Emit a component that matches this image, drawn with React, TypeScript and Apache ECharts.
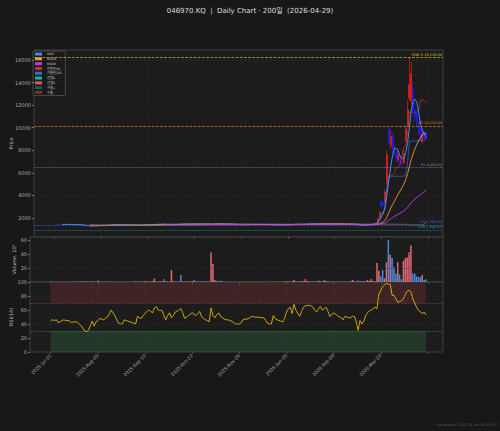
import React, { useEffect, useRef } from "react";
import * as echarts from "echarts";

// ---------- data ----------
const OFFSET = 11; // empty categories before first bar (axis margin)
const N_CAT = 220;
const TICK_EVERY = 25;
const TICK_LABELS = ["2025-Jul-01", "2025-Aug-05", "2025-Sep-10", "2025-Oct-22", "2025-Nov-26", "2026-Jan-05", "2026-Feb-09", "2026-Mar-20"];
const PRICE_TICKS = [2000, 4000, 6000, 8000, 10000, 12000, 14000, 16000];
const VOLUME_TICKS = [20, 40, 60];
const RSI_TICKS = [0, 20, 40, 60, 80, 100];

// [open, close, low, high]
const CANDLES: number[][] = [
  [1460,1450,1430,1480],[1450,1440,1425,1465],[1440,1445,1430,1460],[1445,1430,1420,1455],[1430,1420,1405,1440],
  [1420,1425,1410,1440],[1425,1435,1415,1450],[1435,1430,1420,1445],[1430,1425,1410,1440],[1425,1415,1405,1435],
  [1415,1410,1395,1425],[1410,1400,1390,1420],[1400,1405,1390,1415],[1405,1395,1380,1410],[1395,1380,1370,1400],
  [1380,1360,1350,1390],[1360,1330,1320,1370],[1330,1300,1285,1340],[1300,1270,1255,1310],[1270,1280,1260,1295],
  [1280,1290,1270,1300],[1290,1330,1285,1345],[1330,1310,1300,1340],[1310,1325,1300,1335],[1325,1340,1315,1350],
  [1370,1360,1340,1385],[1360,1355,1340,1370],[1355,1370,1345,1380],[1370,1365,1355,1380],[1365,1380,1360,1390],
  [1380,1400,1375,1410],[1400,1420,1395,1430],[1420,1450,1415,1470],[1450,1430,1420,1455],[1430,1415,1405,1440],
  [1415,1390,1380,1420],[1390,1370,1360,1395],[1370,1360,1350,1380],[1360,1355,1345,1370],[1355,1375,1350,1385],
  [1375,1370,1360,1385],[1370,1360,1350,1380],[1360,1355,1345,1370],[1355,1345,1335,1365],[1345,1340,1330,1355],
  [1340,1335,1325,1350],[1335,1365,1330,1380],[1365,1360,1350,1375],[1360,1370,1355,1380],[1370,1385,1365,1395],
  [1385,1395,1380,1405],[1395,1410,1390,1420],[1410,1425,1405,1435],[1425,1415,1405,1430],[1415,1440,1410,1450],
  [1440,1470,1435,1490],[1470,1450,1440,1475],[1450,1445,1435,1460],[1445,1455,1440,1465],[1455,1460,1445,1470],
  [1460,1420,1410,1465],[1420,1440,1415,1450],[1440,1450,1435,1460],[1450,1445,1435,1460],[1420,1430,1410,1450],
  [1430,1445,1425,1455],[1445,1455,1440,1465],[1455,1460,1445,1470],[1460,1465,1450,1475],[1485,1475,1460,1495],
  [1475,1480,1465,1490],[1480,1440,1430,1485],[1440,1450,1435,1460],[1450,1455,1440,1465],[1455,1465,1445,1475],
  [1465,1470,1455,1480],[1470,1455,1445,1480],[1455,1465,1450,1475],[1465,1475,1455,1485],[1475,1470,1460,1485],
  [1470,1455,1445,1480],[1455,1445,1435,1465],[1445,1440,1430,1455],[1440,1430,1420,1450],[1430,1425,1415,1440],
  [1425,1490,1420,1520],[1450,1460,1440,1480],[1460,1470,1450,1480],[1470,1475,1460,1485],[1475,1465,1455,1485],
  [1465,1460,1450,1475],[1460,1450,1440,1470],[1450,1440,1430,1460],[1440,1435,1425,1450],[1435,1430,1420,1445],
  [1430,1425,1415,1440],[1425,1415,1405,1435],[1415,1410,1400,1425],[1410,1400,1390,1420],[1400,1395,1385,1410],
  [1395,1390,1380,1405],[1390,1400,1385,1410],[1400,1410,1395,1420],[1410,1415,1400,1425],[1415,1418,1405,1428],
  [1418,1420,1410,1430],[1420,1425,1410,1435],[1425,1430,1415,1440],[1430,1428,1418,1438],[1428,1430,1420,1440],
  [1430,1428,1418,1438],[1428,1426,1416,1436],[1426,1424,1414,1434],[1424,1425,1414,1435],[1425,1410,1400,1430],
  [1410,1395,1385,1415],[1395,1390,1380,1400],[1390,1385,1375,1395],[1385,1405,1380,1415],[1405,1400,1390,1410],
  [1400,1395,1385,1410],[1395,1390,1380,1405],[1390,1385,1375,1400],[1385,1380,1370,1395],[1380,1400,1375,1410],
  [1400,1420,1395,1430],[1420,1440,1415,1450],[1440,1430,1420,1450],[1430,1445,1425,1455],[1445,1470,1440,1490],
  [1470,1455,1445,1475],[1455,1445,1435,1465],[1445,1440,1430,1455],[1440,1460,1435,1470],[1460,1470,1450,1480],
  [1470,1475,1460,1495],[1475,1480,1465,1490],[1480,1490,1470,1500],[1490,1485,1475,1500],[1485,1480,1470,1495],
  [1480,1470,1460,1490],[1470,1465,1455,1480],[1465,1480,1460,1490],[1480,1475,1465,1490],[1475,1470,1460,1485],
  [1470,1480,1465,1495],[1480,1485,1470,1495],[1485,1470,1460,1490],[1470,1455,1445,1475],[1455,1460,1450,1470],
  [1460,1465,1450,1475],[1465,1460,1450,1470],[1460,1455,1445,1465],[1455,1450,1440,1460],[1450,1440,1430,1455],
  [1440,1430,1420,1450],[1430,1440,1425,1450],[1440,1435,1425,1445],[1435,1430,1420,1445],[1430,1432,1420,1442],
  [1432,1435,1420,1450],[1435,1425,1415,1445],[1425,1400,1390,1430],[1400,1330,1300,1405],[1330,1370,1320,1380],
  [1370,1350,1340,1380],[1350,1365,1345,1375],[1365,1390,1360,1400],[1390,1420,1385,1430],[1420,1450,1410,1460],
  [1450,1470,1440,1490],[1470,1500,1460,1520],[1500,1560,1490,1580],[1580,1950,1560,2050],[1980,2450,1950,2600],
  [3450,3000,2900,3600],[3300,3100,2950,3500],[3400,4300,3300,4500],[5200,7600,5000,8000],[10000,8600,8300,10100],
  [8400,9200,8100,9800],[9300,8000,7800,9600],[8200,7700,7400,8500],[7800,7300,7000,8100],[7200,7600,6900,8200],
  [7500,6900,6700,7700],[6900,6800,6500,7200],[6900,7700,6800,8100],[8900,9900,8700,10200],[10200,11600,10000,12400],
  [12600,13800,12300,16250],[12400,14800,12000,15800],[13400,11500,11000,14000],[11600,10900,10500,12600],[11400,10300,10000,11600],
  [10200,9400,9200,10400],[9900,8900,8700,10100],[8800,9400,8600,9600],[9500,9100,8900,9700],[9700,9000,8850,9800],
];

// volume, millions of shares
const VOLUME: number[] = [
  0.6,0.4,0.5,0.3,0.4,0.5,0.3,0.4,0.3,0.5,
  0.4,0.3,0.4,0.5,0.6,0.7,0.8,0.9,0.7,0.6,
  0.5,0.8,0.6,0.5,0.4,2.0,0.6,0.4,0.3,0.4,
  0.5,0.6,0.4,0.3,0.3,0.4,0.3,0.3,0.4,0.3,
  0.3,0.4,0.3,0.4,0.5,1.2,0.5,0.4,0.6,0.8,
  1.0,0.7,0.6,0.9,1.5,5.0,0.8,1.0,0.9,1.2,
  4.0,1.0,0.8,0.7,17.0,1.2,0.8,0.7,0.6,10.0,
  1.0,0.7,0.6,0.5,0.8,1.0,3.0,1.0,0.8,0.7,
  1.5,1.0,0.8,0.7,0.6,42.0,26.0,3.0,1.5,1.0,
  2.0,0.8,0.6,0.5,0.5,0.4,0.5,0.4,0.3,0.4,
  0.3,0.4,0.3,0.4,0.5,0.4,0.3,0.4,0.3,0.3,
  0.4,0.3,0.3,0.4,0.3,0.4,0.3,0.3,0.4,0.5,
  0.4,0.6,0.5,0.6,0.8,0.9,1.0,0.8,1.2,3.0,
  1.0,0.8,1.5,1.0,1.2,4.0,1.5,1.0,0.8,1.0,
  0.7,1.2,2.0,1.0,0.8,2.5,1.5,0.9,0.7,0.6,
  0.6,0.5,0.5,0.6,0.5,0.6,0.7,0.5,0.8,1.0,
  3.0,1.5,0.8,2.0,1.0,1.0,1.2,1.0,3.0,1.5,
  4.0,1.5,1.0,27.0,16.0,8.0,17.0,5.0,28.0,60.0,
  39,34,21,12,28,11,4,30,34,35,
  42,52,12,12,8,7,7,10,3,4,
];

const RSI: number[] = [
  45,46,45,46,42,43,45,46,45,45,
  44,42,43,43,43,40,38,34,30,29,
  31,38,44,37,43,45,48,47,46,48,
  50,54,60,56,52,46,41,40,40,46,
  45,44,43,42,41,40,51,49,48,52,
  55,58,60,58,56,63,65,60,59,60,
  52,46,52,56,49,52,57,58,60,62,
  56,48,50,52,54,56,54,52,55,58,
  50,48,46,45,43,63,52,49,53,56,
  51,49,47,46,46,45,44,42,40,40,
  40,42,46,47,47,48,50,51,50,50,
  50,49,49,49,45,41,40,40,52,48,
  46,45,44,43,48,57,62,64,55,68,
  60,55,51,58,64,66,66,67,66,64,
  60,57,62,65,60,62,64,58,51,53,
  56,54,52,50,49,46,51,50,49,49,
  51,51,43,31,45,40,44,52,56,59,
  60,62,64,62,83,88,93,96,98,97,
  97,81,81,76,71,72,73,76,82,87,
  88,86,76,70,64,60,57,55,57,53,
];

const LEVEL_VALUES = [16230, 10150, 6490, 1380, 940];
const LEVEL_LABELS = ["52W H 16,230.00", "R1 10,150.00", "Pv 6,490.00", "S1 1,380.00", "52W L 940.00"];
const LEGEND_NAMES = ["MA5", "MA20", "MA60", "전환선(9)", "기준선(26)", "선행A", "선행B", "구름+", "구름-"];

// ---------- helpers ----------
const sma = (vals: number[], n: number) =>
  vals.map((_, i) => {
    if (i < n - 1) return null;
    let s = 0;
    for (let j = i - n + 1; j <= i; j++) s += vals[j];
    return s / n;
  });
const midRange = (n: number) =>
  CANDLES.map((_, i) => {
    if (i < n - 1) return null;
    let hi = -Infinity, lo = Infinity;
    for (let j = i - n + 1; j <= i; j++) {
      hi = Math.max(hi, CANDLES[j][3]);
      lo = Math.min(lo, CANDLES[j][2]);
    }
    return (hi + lo) / 2;
  });
// pad a per-bar array onto the full category axis
const pad = (arr: any[], empty: any = null) => {
  const out: any[] = Array.from({ length: N_CAT }, () => empty);
  arr.forEach((v, i) => { out[i + OFFSET] = v === null ? empty : v; });
  return out;
};

export default function App() {
  const ref = useRef<HTMLDivElement>(null);
  useEffect(() => {
    document.body.style.margin = "0";
    document.body.style.background = "#181818";
    const chart = echarts.init(ref.current!, null, { renderer: "svg" });

    const closes = CANDLES.map((c) => c[1]);
    const ma5 = sma(closes, 5);
    const ma20 = sma(closes, 20);
    const ma60 = sma(closes, 60);
    const conv = midRange(9);
    const base = midRange(26);
    const b52 = midRange(52);
    const spanA: (number | null)[] = CANDLES.map(() => null);
    const spanB: (number | null)[] = CANDLES.map(() => null);
    for (let i = 0; i + 26 < CANDLES.length; i++) {
      if (conv[i] !== null && base[i] !== null) spanA[i + 26] = ((conv[i] as number) + (base[i] as number)) / 2;
      if (b52[i] !== null) spanB[i + 26] = b52[i];
    }

    const cats = Array.from({ length: N_CAT }, (_, k) => String(k));
    const isTick = (k: number) => k >= OFFSET && (k - OFFSET) % TICK_EVERY === 0 && k - OFFSET <= 200;
    const font = "'DejaVu Sans', 'Noto Sans CJK KR', sans-serif";
    const BG = "#1c1c1c";
    const BORDER = "#4a4a4a";

    const grids = [
      { left: 30, top: 50, width: 413, height: 187 },
      { left: 30, top: 237, width: 413, height: 45 },
      { left: 30, top: 282, width: 413, height: 70 },
    ].map((g) => ({ ...g, show: true, backgroundColor: BG, borderColor: BORDER, borderWidth: 0.8 }));

    const xAxes = [0, 1, 2].map((g) => ({
      type: "category",
      gridIndex: g,
      data: cats,
      boundaryGap: false,
      axisLine: { show: false },
      axisTick: { show: true, interval: (i: number) => isTick(i), length: 2, lineStyle: { color: "#777", width: 0.6 } },
      axisLabel: {
        show: g === 2,
        interval: (i: number) => isTick(i),
        formatter: (_v: string, i: number) => TICK_LABELS[(i - OFFSET) / TICK_EVERY] || "",
        rotate: 45,
        fontSize: 4.6,
        color: "#aaa",
        margin: 3,
        fontFamily: font,
      },
      splitLine: { show: true, interval: (i: number) => isTick(i), lineStyle: { color: "#2e2e2e", type: "dotted", width: 0.6 } },
    }));

    // y labels are drawn as rich-free plain strings; ticks are pinned with customValues
    const yAxis = (g: number, min: number, max: number, ticks: number[], name: string, nameGap: number) => ({
      type: "value", gridIndex: g, min, max,
      axisLine: { show: false },
      axisTick: { show: true, length: 2, customValues: ticks, lineStyle: { color: "#777" } },
      axisLabel: {
        customValues: ticks, fontSize: 5, color: "#aaa", margin: 3, fontFamily: font,
        formatter: (v: number) => String(Math.round(v)),
        width: 24, overflow: "none", align: "right",
      },
      splitLine: { show: true, lineStyle: { color: "#2e2e2e", type: "dotted", width: 0.6 } },
      name, nameGap, nameLocation: "middle", nameRotate: 90, nameMoveOverlap: false,
      nameTextStyle: { fontSize: 5, color: "#bbb", fontFamily: font },
      z: 20,
    });
    const yAxes = [
      yAxis(0, 317, 16886, PRICE_TICKS, "Price", 21),
      yAxis(1, 0, 64, VOLUME_TICKS, "Volume, 10⁶", 14),
      yAxis(2, 0, 100, RSI_TICKS, "RSI(14)", 17),
    ];

    const levelColors = ["#d6c21c", "#d9821a", "#6f8fae", "#4a6fc0", "#1c98aa"];
    const levelTypes = ["dashed", "dashed", "dotted", "dotted", "dotted"];

    const line = (name: string, data: (number | null)[], color: string, width: number, opacity = 1) => ({
      type: "line", name, data: pad(data), xAxisIndex: 0, yAxisIndex: 0, color,
      showSymbol: false, symbol: "none", connectNulls: false,
      lineStyle: { color, width, opacity },
    });

    const first = String(OFFSET);
    const last = String(OFFSET + CANDLES.length - 1);

    const option: any = {
      animation: false,
      backgroundColor: "#181818",
      textStyle: { fontFamily: font },
      title: {
        text: "046970.KQ  |  Daily Chart · 200일  (2026-04-29)",
        left: "center", top: 2,
        textStyle: { fontSize: 7, color: "#ddd", fontWeight: "normal", fontFamily: font },
      },
      legend: {
        data: LEGEND_NAMES.map((n) => ({ name: n, icon: "rect" })),
        left: 33, top: 51, orient: "vertical",
        itemWidth: 7, itemHeight: 3, itemGap: 1.6,
        textStyle: { fontSize: 3.2, color: "#ccc", fontFamily: font },
        backgroundColor: "rgba(26,26,26,0.92)", borderColor: "#777", borderWidth: 0.5,
        padding: [1.5, 3, 1.5, 2], borderRadius: 1,
      },
      grid: grids,
      xAxis: xAxes,
      yAxis: yAxes,
      graphic: [
        { type: "text", right: 3, bottom: 4, style: { text: "Generated: 2026-04-29 09:38 KST", fill: "#555", fontSize: 3.5, fontFamily: font } },
      ],
      series: [
        {
          type: "candlestick", name: "price", xAxisIndex: 0, yAxisIndex: 0,
          data: pad(CANDLES, "-"),
          barWidth: 1.5,
          itemStyle: { color: "#ff1c1c", color0: "#1c1cff", borderColor: "#ff1c1c", borderColor0: "#1c1cff", borderWidth: 0.6 },
          markLine: {
            silent: true, symbol: "none",
            data: LEVEL_VALUES.map((v, j) => ({
              yAxis: v,
              lineStyle: { color: levelColors[j], type: levelTypes[j], width: 0.7 },
              label: { show: true, formatter: LEVEL_LABELS[j], position: "insideEndTop", color: levelColors[j], fontSize: 3.5, distance: 1, fontFamily: font },
            })),
          },
        },
        line("전환선(9)", conv, "#c83030", 0.8, 0.85),
        line("기준선(26)", base, "#3a6cd0", 0.8, 0.85),
        line("선행A", spanA, "#20b2a0", 0.6, 0.6),
        line("선행B", spanB, "#f06060", 0.6, 0.6),
        line("MA5", ma5, "#3b8fe8", 1.0),
        line("MA20", ma20, "#f59a2c", 0.9),
        line("MA60", ma60, "#b83ce0", 1.0),
        line("구름+", [], "#1e5a50", 0.5),
        line("구름-", [], "#7a3030", 0.5),
        {
          type: "bar", name: "volume", xAxisIndex: 1, yAxisIndex: 1, barWidth: "80%",
          data: pad(VOLUME.map((v, i) => ({
            value: v,
            itemStyle: { color: CANDLES[i][1] >= CANDLES[i][0] ? "rgba(245,115,125,0.9)" : "rgba(70,150,250,0.9)" },
          })), "-"),
        },
        {
          type: "line", name: "RSI", xAxisIndex: 2, yAxisIndex: 2, symbol: "none", showSymbol: false,
          data: pad(RSI),
          lineStyle: { color: "#e3b800", width: 0.9 }, color: "#e3b800", z: 5,
          markArea: {
            silent: true,
            data: [
              [{ xAxis: first, yAxis: 70, itemStyle: { color: "rgba(200,70,70,0.2)" } }, { xAxis: last, yAxis: 100 }],
              [{ xAxis: first, yAxis: 0, itemStyle: { color: "rgba(70,170,95,0.2)" } }, { xAxis: last, yAxis: 30 }],
            ],
          },
          markLine: {
            silent: true, symbol: "none", label: { show: false },
            data: [
              { yAxis: 70, lineStyle: { color: "#a54848", type: "dotted", width: 0.7 } },
              { yAxis: 30, lineStyle: { color: "#3f9552", type: "dotted", width: 0.7 } },
            ],
          },
        },
      ],
    };
    chart.setOption(option);
    return () => chart.dispose();
  }, []);
  return <div ref={ref} style={{ width: 500, height: 431 }} />;
}
